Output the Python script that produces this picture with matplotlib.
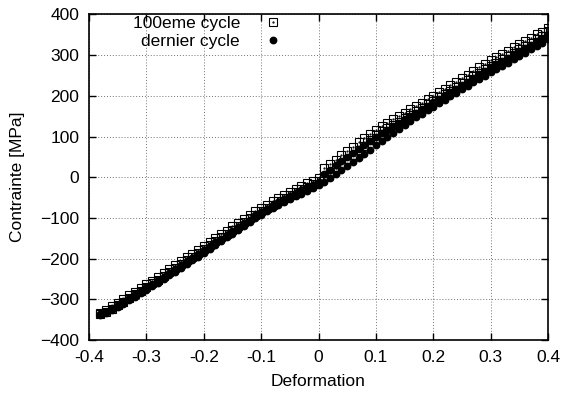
import matplotlib
matplotlib.use('Agg')
import matplotlib.pyplot as plt

# strain values (shared by every branch)
deformation = [-0.38, -0.37, -0.36, -0.35, -0.34, -0.33, -0.32, -0.31, -0.30, -0.29,
               -0.28, -0.27, -0.26, -0.25, -0.24, -0.23, -0.22, -0.21, -0.20, -0.19,
               -0.18, -0.17, -0.16, -0.15, -0.14, -0.13, -0.12, -0.11, -0.10, -0.09,
               -0.08, -0.07, -0.06, -0.05, -0.04, -0.03, -0.02, -0.01, 0.00, 0.01,
               0.02, 0.03, 0.04, 0.05, 0.06, 0.07, 0.08, 0.09, 0.10, 0.11,
               0.12, 0.13, 0.14, 0.15, 0.16, 0.17, 0.18, 0.19, 0.20, 0.21,
               0.22, 0.23, 0.24, 0.25, 0.26, 0.27, 0.28, 0.29, 0.30, 0.31,
               0.32, 0.33, 0.34, 0.35, 0.36, 0.37, 0.38, 0.39, 0.40]

# 100eme cycle: upper and lower branch of the loop [MPa]
cycle100_up = [-334, -326, -317, -308, -299, -290, -281, -272, -263, -254,
               -245, -235, -226, -216, -207, -197, -188, -178, -169, -159,
               -150, -140, -131, -121, -112, -103, -93, -84, -75, -67,
               -59, -51, -43, -36, -29, -22, -15, -9, -3, 22,
               32, 43, 54, 64, 75, 86, 97, 107, 117, 126,
               134, 142, 150, 159, 167, 175, 183, 192, 200, 209,
               218, 226, 235, 244, 252, 261, 270, 278, 287, 295,
               303, 311, 319, 327, 335, 343, 351, 358, 366]
cycle100_down = [-337, -332, -324, -315, -306, -297, -288, -279, -270, -261,
                 -252, -242, -233, -223, -214, -204, -195, -185, -176, -166,
                 -157, -148, -139, -129, -120, -111, -101, -92, -83, -75,
                 -67, -59, -51, -44, -37, -30, -23, -16, -9, 1,
                 11, 22, 33, 44, 55, 66, 78, 91, 103, 113,
                 121, 129, 137, 146, 154, 162, 170, 179, 187, 196,
                 205, 213, 222, 231, 239, 248, 257, 265, 274, 282,
                 290, 298, 306, 314, 322, 330, 339, 348, 360]

# dernier cycle
last_up = [-335, -330, -322, -314, -305, -296, -288, -279, -270, -262,
           -253, -244, -235, -226, -216, -207, -198, -188, -179, -170,
           -160, -151, -141, -132, -122, -113, -104, -94, -85, -77,
           -69, -61, -53, -46, -39, -32, -25, -19, -12, 9,
           19, 29, 39, 49, 59, 69, 79, 89, 99, 108,
           117, 126, 134, 143, 151, 159, 167, 176, 184, 193,
           201, 210, 218, 227, 235, 244, 253, 261, 270, 278,
           286, 294, 302, 310, 318, 326, 334, 342, 350]
last_down = [-338, -334, -327, -319, -311, -302, -294, -285, -276, -268,
             -259, -250, -241, -232, -222, -213, -204, -195, -185, -176,
             -167, -157, -148, -139, -129, -120, -111, -101, -92, -84,
             -76, -68, -61, -54, -47, -40, -33, -27, -20, -12,
             -2, 8, 18, 28, 38, 48, 58, 68, 79, 89,
             99, 109, 119, 129, 138, 147, 156, 165, 173, 182,
             190, 199, 207, 216, 224, 233, 241, 250, 258, 266,
             274, 282, 290, 298, 306, 314, 322, 331, 341]

labels = ['100eme cycle', 'dernier cycle']
x_ticks = [-0.4, -0.3, -0.2, -0.1, 0, 0.1, 0.2, 0.3, 0.4]
x_ticklabels = ['-0.4', '-0.3', '-0.2', '-0.1', '0', '0.1', '0.2', '0.3', '0.4']
y_ticks = [-400, -300, -200, -100, 0, 100, 200, 300, 400]

plt.rcParams['font.family'] = ['Liberation Sans', 'DejaVu Sans']
plt.rcParams['font.size'] = 12.5

fig = plt.figure(figsize=(5.63, 3.94), dpi=100)
ax = fig.add_axes([0.1581, 0.1371, 0.8153, 0.8261])

x_all = deformation + deformation
ax.plot(x_all, last_up + last_down, linestyle='none', marker='o', markersize=4.6,
        color='black', zorder=3)
ax.plot(x_all, cycle100_up + cycle100_down, linestyle='none', marker='s',
        markersize=5.4, markerfacecolor='none', markeredgecolor='black',
        markeredgewidth=0.8, zorder=4)
ax.plot(x_all, cycle100_up + cycle100_down, linestyle='none', marker='.',
        markersize=1.2, color='black', zorder=4)

# legend entries (square with dot, filled circle), gnuplot style:
# one legend per entry, both right-anchored so the text ends line up
sq = ax.plot([], [], linestyle='none', marker='s', markersize=5.4,
             markerfacecolor='none', markeredgecolor='black', markeredgewidth=0.8)[0]
dot = ax.plot([], [], linestyle='none', marker='.', markersize=1.2, color='black')[0]
circ = ax.plot([], [], linestyle='none', marker='o', markersize=4.6, color='black')[0]
leg_kw = dict(loc='center right', frameon=False, markerfirst=False, borderpad=0,
              borderaxespad=0, handlelength=0.9, handletextpad=1.45)
leg1 = ax.legend([(sq, dot)], labels[:1], bbox_to_anchor=(0.418, 0.972), **leg_kw)
ax.add_artist(leg1)
ax.legend([circ], labels[1:], bbox_to_anchor=(0.418, 0.917), **leg_kw)

ax.set_xlim(-0.4, 0.4)
ax.set_ylim(-400, 400)
ax.set_xticks(x_ticks)
ax.set_xticklabels(x_ticklabels)
ax.set_yticks(y_ticks)
ax.set_xlabel('Deformation', labelpad=7)
ax.set_ylabel('Contrainte [MPa]', labelpad=11)
ax.grid(True, color='0.45', linestyle=(0, (1, 2)), linewidth=0.7)
ax.tick_params(direction='in', length=5, width=1.0, top=True, right=True, pad=7)
for s in ax.spines.values():
    s.set_linewidth(1.2)

fig.savefig('out.png', dpi=100)
